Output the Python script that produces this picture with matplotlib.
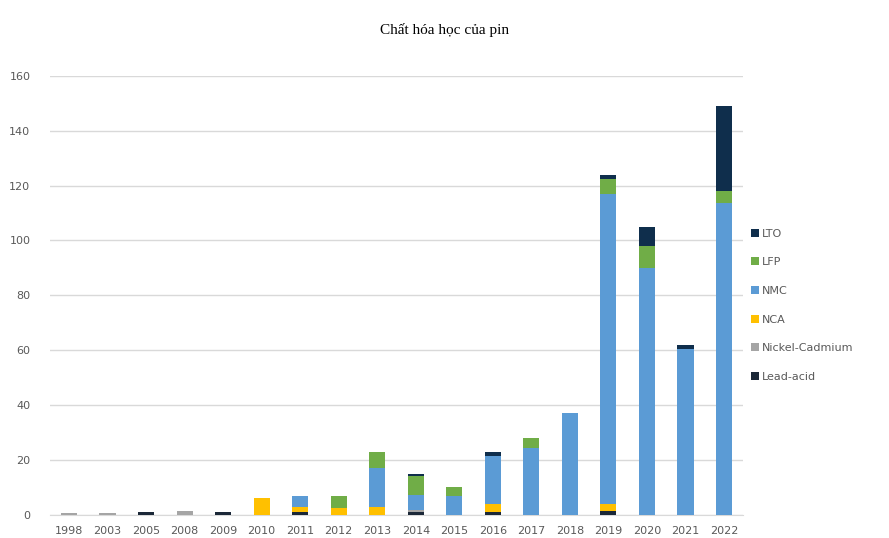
import numpy as np
import matplotlib
matplotlib.use("Agg")
import matplotlib.pyplot as plt

years = ["1998", "2003", "2005", "2008", "2009", "2010", "2011", "2012", "2013",
         "2014", "2015", "2016", "2017", "2018", "2019", "2020", "2021", "2022"]
# one value per year, stacked bottom to top
lead_acid = [0, 0, 1.0, 0, 1.0, 0, 1.0, 0, 0, 1.0, 0, 1.0, 0, 0, 1.5, 0, 0, 0]
nickel_cadmium = [0.6, 0.6, 0, 1.4, 0, 0, 0, 0, 0, 0.8, 0, 0, 0, 0, 0, 0, 0, 0]
nca = [0, 0, 0, 0, 0, 6.0, 2.0, 2.5, 3.0, 0, 0, 3.0, 0, 0, 2.5, 0, 0, 0]
nmc = [0, 0, 0, 0, 0, 0, 4.0, 0, 14.0, 5.5, 7.0, 17.5, 24.5, 37.0, 113.0, 90.0, 60.5, 113.5]
lfp = [0, 0, 0, 0, 0, 0, 0, 4.5, 6.0, 6.7, 3.0, 0, 3.5, 0, 5.5, 8.0, 0, 4.5]
lto = [0, 0, 0, 0, 0, 0, 0, 0, 0, 1.0, 0, 1.5, 0, 0, 1.5, 7.0, 1.5, 31.0]

series = [
    ("Lead-acid", lead_acid, "#1b2838"),
    ("Nickel-Cadmium", nickel_cadmium, "#a5a5a5"),
    ("NCA", nca, "#ffc000"),
    ("NMC", nmc, "#5b9bd5"),
    ("LFP", lfp, "#70ad47"),
    ("LTO", lto, "#0f2e4c"),
]

fig = plt.figure(figsize=(8.89, 5.38), dpi=100)
ax = fig.add_axes([0.056, 0.043, 0.78, 0.816])

x = np.arange(len(years))
bottom = np.zeros(len(years))
for name, vals, col in series:
    vals = np.array(vals)
    ax.bar(x, vals, 0.42, bottom=bottom, color=col, label=name, zorder=3)
    bottom += vals

ax.set_xlim(-0.5, len(years) - 0.5)
ax.set_ylim(0, 160)
ax.set_yticks(np.arange(0, 161, 20))
ax.set_xticks(x)
ax.set_xticklabels(years)
ax.grid(axis="y", color="#d9d9d9", linewidth=1, zorder=0)
for s in ["top", "right", "left"]:
    ax.spines[s].set_visible(False)
ax.spines["bottom"].set_color("#d9d9d9")
ax.tick_params(axis="both", length=0, labelsize=8, colors="#595959")
ax.tick_params(axis="x", pad=8)
ax.tick_params(axis="y", pad=14)

handles, labels = ax.get_legend_handles_labels()
leg = ax.legend(handles[::-1], labels[::-1], loc="upper left",
                bbox_to_anchor=(1.0, 0.67), frameon=False, fontsize=8,
                handlelength=0.7, handleheight=0.7, handletextpad=0.3,
                labelspacing=1.68, borderaxespad=0.3)
for t in leg.get_texts():
    t.set_color("#595959")

fig.text(0.5, 0.945, "Chất hóa học của pin", ha="center", va="center",
         fontsize=11, family="Liberation Serif")

fig.savefig("out.png", dpi=100)
